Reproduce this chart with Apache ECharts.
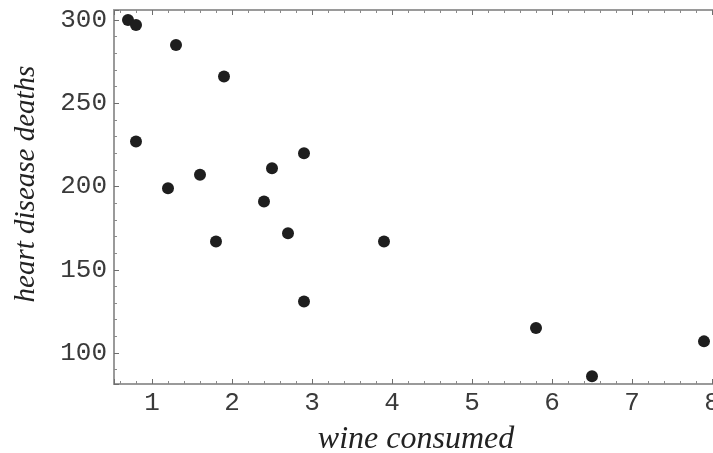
<!DOCTYPE html>
<html>
<head>
<meta charset="utf-8">
<script src="https://cdn.jsdelivr.net/npm/echarts@6/dist/echarts.min.js"></script>
<style>
  html, body { margin: 0; padding: 0; background: #fff; }
  #chart { width: 713px; height: 453px; }
</style>
</head>
<body>
<div id="chart"></div>
<script>
// Data
const wineConsumed = [0.7, 0.8, 1.3, 1.9, 0.8, 1.2, 1.6, 1.8, 2.5, 2.9, 2.4, 2.7, 2.9, 3.9, 5.8, 6.5, 7.9];
const heartDiseaseDeaths = [300, 297, 285, 266, 227, 199, 207, 167, 211, 220, 191, 172, 131, 167, 115, 86, 107];
const xAxisTitle = 'wine consumed';
const yAxisTitle = 'heart disease deaths';
const xRange = [0.525, 8.0125];
const yRange = [81.4, 306];

const points = wineConsumed.map((x, i) => [x, heartDiseaseDeaths[i]]);

const chart = echarts.init(document.getElementById('chart'), null, { renderer: 'canvas' });

const frameLine = { show: true, lineStyle: { color: '#9a9a9a', width: 2 } };
const tick = { show: true, inside: true, length: 5, lineStyle: { color: '#6e6e6e', width: 1 } };
const minorTick = { show: true, splitNumber: 5, length: 3, lineStyle: { color: '#8a8a8a', width: 1 } };
const labelFont = { fontFamily: 'Liberation Mono', fontSize: 26, color: '#3a3a3a' };

chart.setOption({
  animation: false,
  backgroundColor: '#ffffff',
  grid: { left: 114, right: 0, top: 10, bottom: 69, containLabel: false, outerBoundsMode: 'none' },
  xAxis: [
    {
      type: 'value', position: 'bottom', min: xRange[0], max: xRange[1], splitNumber: 7,
      axisLine: frameLine, axisTick: tick, minorTick: minorTick,
      splitLine: { show: false },
      axisLabel: Object.assign({ margin: 6, showMinLabel: false, showMaxLabel: false,
        formatter: v => (Math.abs(v - Math.round(v)) < 1e-6 ? String(Math.round(v)) : '') }, labelFont)
    },
    {
      type: 'value', position: 'top', min: xRange[0], max: xRange[1], splitNumber: 7,
      axisLine: frameLine, axisTick: tick, minorTick: minorTick,
      splitLine: { show: false }, axisLabel: { show: false }
    }
  ],
  yAxis: [
    {
      type: 'value', position: 'left', min: yRange[0], max: yRange[1], splitNumber: 5,
      axisLine: frameLine, axisTick: tick, minorTick: minorTick,
      splitLine: { show: false },
      axisLabel: Object.assign({ margin: 7, showMinLabel: false, showMaxLabel: false,
        formatter: v => (Math.abs(v - Math.round(v / 50) * 50) < 1e-6 ? String(Math.round(v)) : '') }, labelFont)
    }
  ],
  graphic: [
    {
      type: 'text', x: 26, y: 184, rotation: Math.PI / 2,
      style: {
        text: yAxisTitle, fill: '#222',
        font: 'italic 29px "Liberation Serif", "Times New Roman", serif',
        align: 'center', verticalAlign: 'middle', textAlign: 'center', textVerticalAlign: 'middle'
      }
    },
    {
      type: 'text', x: 416, y: 440,
      style: {
        text: xAxisTitle, fill: '#222',
        font: 'italic 32px "Liberation Serif", "Times New Roman", serif',
        align: 'center', verticalAlign: 'middle', textAlign: 'center', textVerticalAlign: 'middle'
      }
    }
  ],
  series: [
    {
      type: 'scatter', xAxisIndex: 0, yAxisIndex: 0,
      data: points, symbol: 'circle', symbolSize: 12,
      itemStyle: { color: '#1e1e1e', opacity: 1 }, clip: false
    }
  ]
});
</script>
</body>
</html>
